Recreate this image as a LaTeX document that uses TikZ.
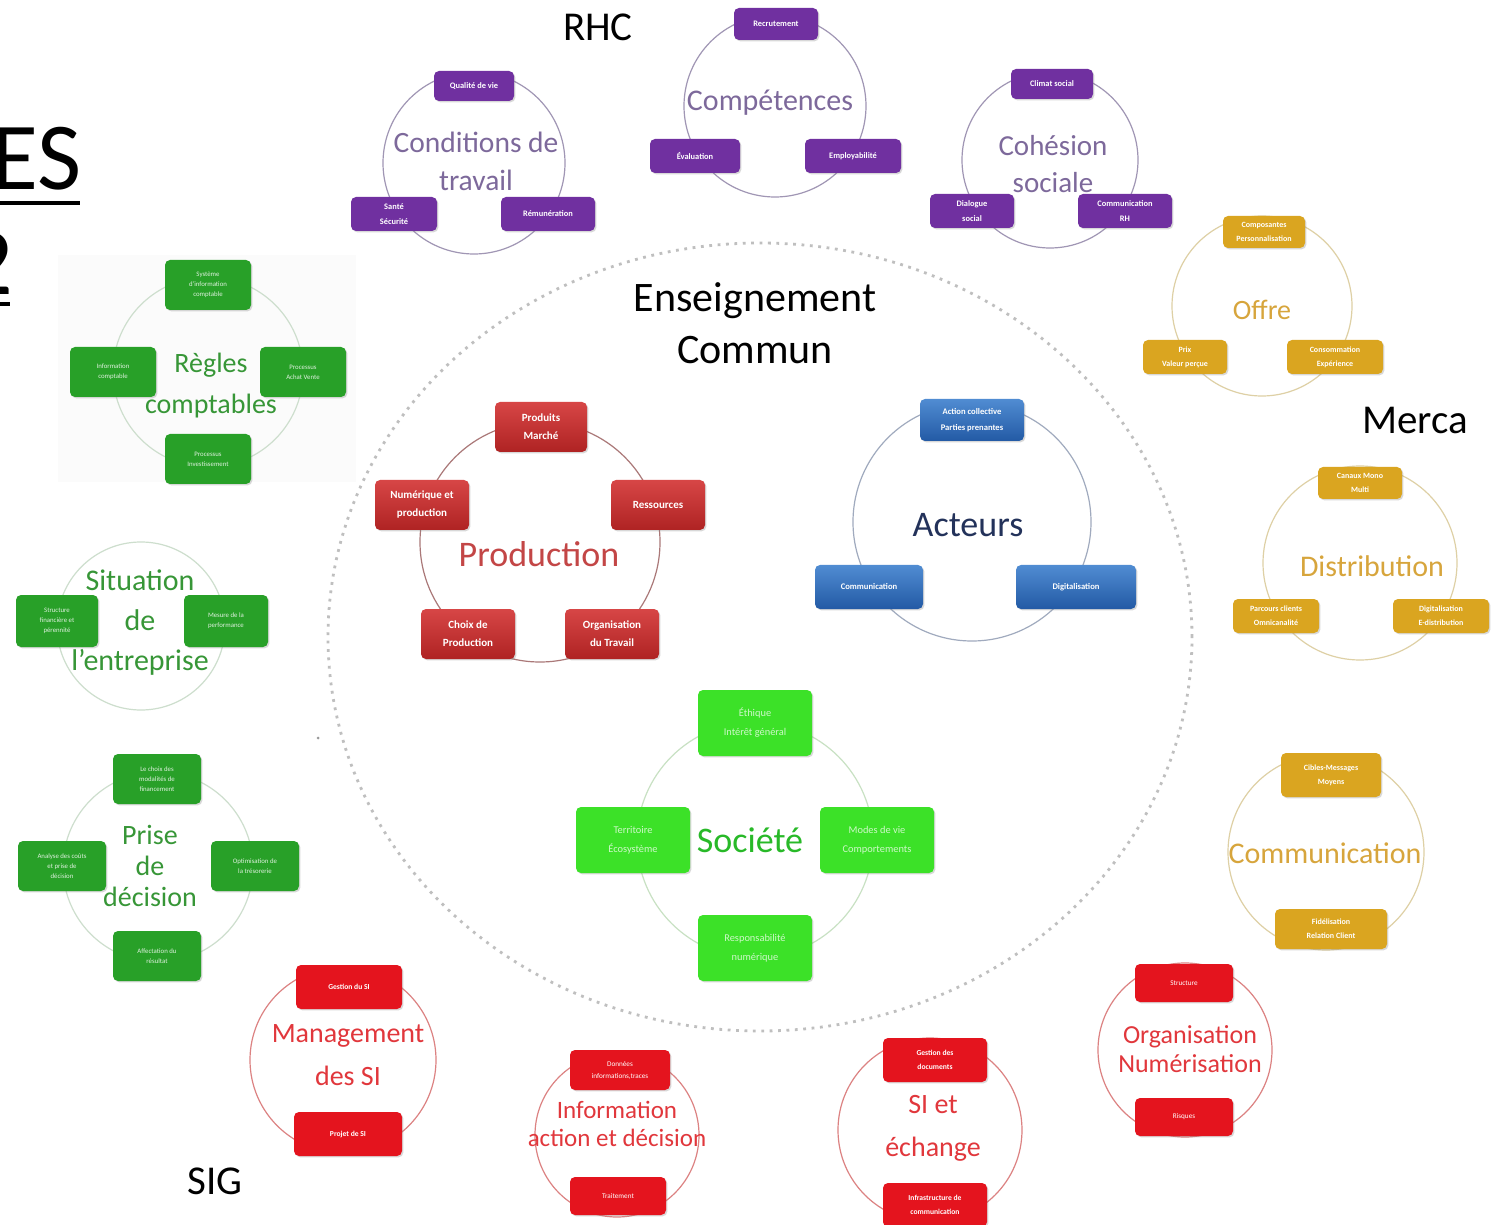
\documentclass[tikz,border=0pt]{standalone}
\usepackage{fontspec}
\setmainfont{Carlito}
\usetikzlibrary{shapes.geometric,shadows}
\definecolor{cPurple}{RGB}{112,48,160}
\definecolor{cPurpleT}{RGB}{125,105,155}
\definecolor{cPurpleR}{RGB}{160,150,180}
\definecolor{cGold}{RGB}{218,165,32}
\definecolor{cGoldT}{RGB}{215,165,60}
\definecolor{cGoldR}{RGB}{222,208,165}
\definecolor{cGreen}{RGB}{40,160,40}
\definecolor{cGreenT}{RGB}{55,150,55}
\definecolor{cGreenR}{RGB}{205,222,205}
\definecolor{cProdA}{RGB}{215,70,70}
\definecolor{cProdB}{RGB}{175,35,35}
\definecolor{cProdT}{RGB}{195,70,70}
\definecolor{cProdR}{RGB}{170,120,120}
\definecolor{cBlueA}{RGB}{80,140,210}
\definecolor{cBlueB}{RGB}{35,90,165}
\definecolor{cBlueT}{RGB}{35,50,90}
\definecolor{cBlueR}{RGB}{160,170,190}
\definecolor{cSoc}{RGB}{60,225,40}
\definecolor{cSocT}{RGB}{40,185,40}
\definecolor{cSocR}{RGB}{200,225,195}
\definecolor{cRed}{RGB}{228,20,30}
\definecolor{cRedT}{RGB}{225,55,60}
\definecolor{cRedR}{RGB}{220,130,130}
\definecolor{cPanel}{RGB}{251,251,251}
\newcommand{\fsz}[2]{\fontsize{#1}{#2}\selectfont}
\tikzset{
  ring/.style 2 args={circle, draw=#2, line width=0.6pt, inner sep=0pt, minimum size=#1*1pt},
  sz/.style 2 args={minimum width=#1*0.5pt, minimum height=#2*0.5pt},
  box/.style={rounded corners=2.5pt, align=center, inner sep=0pt, text=white,
    drop shadow={shadow xshift=0.7pt, shadow yshift=-0.7pt, opacity=0.3}},
  purp/.style={box, fill=cPurple, font=\bfseries\fsz{4.2}{7.5}},
  gold/.style={box, fill=cGold, font=\bfseries\fsz{4}{7}},
  grn/.style={box, fill=cGreen, text=white!85!cGreen, font=\fsz{3.4}{5}},
  prod/.style={box, top color=cProdA, bottom color=cProdB, font=\bfseries\fsz{5.5}{9}},
  blu/.style={box, top color=cBlueA, bottom color=cBlueB, font=\bfseries\fsz{4.3}{8}},
  soc/.style={box, fill=cSoc, text=white!75!cSoc, font=\fsz{5.2}{9.5}},
  rbox/.style={box, fill=cRed, font=\bfseries\fsz{3.8}{7}},
  ttl/.style={align=center, inner sep=0pt},
  lbl/.style={inner sep=0pt, font=\fsz{20.5}{24}}
}
\begin{document}
\begin{tikzpicture}[x=0.5pt, y=-0.5pt]
\useasboundingbox[fill=white] (0,0) rectangle (1512,1225);

% faint panel behind the accounting cluster
\fill[cPanel] (58,255) rectangle (356,482);

% big dotted ellipse
\node[ellipse, draw=black!25, line width=1.4pt, dash pattern=on 1.4pt off 2.8pt,
  minimum width=432pt, minimum height=394pt, inner sep=0pt] (ens) at (760,637) {};
\fill[black!40] (318,738) circle [radius=1.5];

% ---------- title fragment ----------
\node[anchor=base east, inner sep=0pt, font=\fsz{48}{48}] (tes) at (82,190) {ES};
\node[anchor=base east, inner sep=0pt, font=\fsz{48}{48}] (tdeux) at (14,295) {2};
\draw[line width=2pt] (-10,203) -- (80,203);
\draw[line width=2pt] (-10,304) -- (10,304);

% ---------- labels ----------
\node[lbl] (rhc) at (598,27) {RHC};
\node[lbl] (merca) at (1415,420) {Merca};
\node[lbl] (sig) at (215,1181) {SIG};
\node[ttl, font=\fsz{21}{26}] (enscom) at (755,323) {Enseignement\\Commun};

% ---------- RHC : Conditions de travail ----------
\node[ring={91}{cPurpleR}] (rcond) at (474,163) {};
\node[purp, sz={80}{30}] (qual) at (474,86) {Qualité de vie};
\node[purp, sz={86}{34}] (sante) at (394,214) {Santé\\Sécurité};
\node[purp, sz={94}{34}] (remu) at (548,214) {Rémunération};
\node[ttl, text=cPurpleT, font=\fsz{14.75}{19}] (tcond) at (476,161) {Conditions de\\travail};

% ---------- Compétences ----------
\node[ring={91}{cPurpleR}] (rcomp) at (775,106) {};
\node[purp, sz={84}{32}] (recr) at (776,24) {Recrutement};
\node[purp, sz={90}{34}] (eval) at (695,156) {Évaluation};
\node[purp, sz={96}{34}] (empl) at (853,156) {Employabilité};
\node[ttl, text=cPurpleT, font=\fsz{15}{18}] (tcomp) at (770,103) {Compétences};

% ---------- Cohésion sociale ----------
\node[ring={88}{cPurpleR}] (rcoh) at (1050,160) {};
\node[purp, sz={82}{30}] (climat) at (1052,84) {Climat social};
\node[purp, sz={84}{34}] (dial) at (972,211) {Dialogue\\social};
\node[purp, sz={94}{34}] (comrh) at (1125,211) {Communication\\RH};
\node[ttl, text=cPurpleT, font=\fsz{14.5}{18.5}] (tcoh) at (1053,164) {Cohésion\\sociale};

% ---------- Merca : Offre ----------
\node[ring={90}{cGoldR}] (roffre) at (1262,306) {};
\node[gold, sz={82}{32}] (compo) at (1264,232) {Composantes\\Personnalisation};
\node[gold, sz={84}{34}] (prix) at (1185,357) {Prix\\Valeur perçue};
\node[gold, sz={96}{34}] (conso) at (1335,357) {Consommation\\Expérience};
\node[ttl, text=cGoldT, font=\fsz{14}{17}] (toffre) at (1262,310) {Offre};

% ---------- Distribution ----------
\node[ring={97}{cGoldR}] (rdist) at (1360,563) {};
\node[gold, sz={84}{32}] (canaux) at (1360,483) {Canaux Mono\\Multi};
\node[gold, sz={86}{34}] (parc) at (1276,616) {Parcours clients\\Omnicanalité};
\node[gold, sz={96}{34}] (digd) at (1441,616) {Digitalisation\\E-distribution};
\node[ttl, text=cGoldT, font=\fsz{15}{18}] (tdist) at (1372,566) {Distribution};

% ---------- Communication ----------
\node[ring={98}{cGoldR}] (rcomm) at (1326,852) {};
\node[gold, sz={100}{44}] (cibles) at (1331,775) {Cibles-Messages\\Moyens};
\node[gold, sz={112}{40}] (fidel) at (1331,929) {Fidélisation\\Relation Client};
\node[ttl, text=cGoldT, font=\fsz{15}{18}] (tcomm) at (1325,853) {Communication};

% ---------- SIG : Règles comptables ----------
\node[ring={95}{cGreenR}] (rregl) at (208,372) {};
\node[grn, sz={86}{50}] (sic) at (208,285) {Système\\d’information\\comptable};
\node[grn, sz={86}{50}] (infoc) at (113,372) {Information\\comptable};
\node[grn, sz={86}{50}] (pav) at (303,372) {Processus\\Achat Vente};
\node[grn, sz={86}{50}] (pinv) at (208,459) {Processus\\Investissement};
\node[ttl, text=cGreenT, font=\fsz{14}{20.5}] (tregl) at (211,386) {Règles\\comptables};

% ---------- Situation de l'entreprise ----------
\node[ring={84}{cGreenR}] (rsit) at (141,626) {};
\node[grn, sz={82}{52}] (struct) at (57,621) {Structure\\financière et\\pérennité};
\node[grn, sz={84}{52}] (mesure) at (226,621) {Mesure de la\\performance};
\node[ttl, text=cGreenT, font=\fsz{15}{20}] (tsit) at (140,623) {Situation\\de\\l’entreprise};

% ---------- Prise de décision ----------
\node[ring={95}{cGreenR}] (rprise) at (158,867) {};
\node[grn, sz={88}{50}] (choixf) at (157,779) {Le choix des\\modalités de\\financement};
\node[grn, sz={88}{50}] (analyse) at (62,866) {Analyse des coûts\\et prise de\\décision};
\node[grn, sz={88}{50}] (optim) at (255,866) {Optimisation de\\la trésorerie};
\node[grn, sz={88}{50}] (affect) at (157,956) {Affectation du\\résultat};
\node[ttl, text=cGreenT, font=\fsz{14}{15.5}] (tprise) at (150,866) {Prise\\de\\décision};

% ---------- Production ----------
\node[ring={120}{cProdR}] (rprod) at (540,542) {};
\node[prod, sz={92}{50}] (prodm) at (541,427) {Produits\\Marché};
\node[prod, sz={94}{50}] (ress) at (658,505) {Ressources};
\node[prod, sz={94}{50}] (orga) at (612,634) {Organisation\\du Travail};
\node[prod, sz={94}{50}] (choixp) at (468,634) {Choix de\\Production};
\node[prod, sz={94}{50}] (numprod) at (422,505) {Numérique et\\production};
\node[ttl, text=cProdT, font=\fsz{18}{21}] (tprod) at (539,554) {Production};

% ---------- Acteurs ----------
\node[ring={119}{cBlueR}] (ract) at (972,522) {};
\node[blu, sz={104}{42}] (actcol) at (972,420) {Action collective\\Parties prenantes};
\node[blu, sz={108}{44}] (commb) at (869,587) {Communication};
\node[blu, sz={120}{44}] (digib) at (1076,587) {Digitalisation};
\node[ttl, text=cBlueT, font=\fsz{18}{21}] (tact) at (968,525) {Acteurs};

% ---------- Société ----------
\node[ring={118}{cSocR}] (rsoc) at (755,840) {};
\node[soc, sz={114}{66}] (eth) at (755,723) {Éthique\\Intérêt général};
\node[soc, sz={114}{66}] (terr) at (633,840) {Territoire\\Écosystème};
\node[soc, sz={114}{66}] (modes) at (877,840) {Modes de vie\\Comportements};
\node[soc, sz={114}{66}] (respn) at (755,948) {Responsabilité\\numérique};
\node[ttl, text=cSocT, font=\fsz{18}{21}] (tsoc) at (750,840) {Société};

% ---------- Management des SI ----------
\node[ring={93}{cRedR}] (rmgt) at (343,1060) {};
\node[rbox, sz={106}{44}] (gsi) at (349,987) {Gestion du SI};
\node[rbox, sz={108}{44}] (psi) at (348,1134) {Projet de SI};
\node[ttl, text=cRedT, font=\fsz{14}{21.5}] (tmgt) at (348,1055) {Management\\des SI};

% ---------- Information action et décision ----------
\node[ring={82}{cRedR}] (rinfo) at (617,1135) {};
\node[rbox, sz={100}{40}, font=\fsz{3.6}{6}] (donn) at (620,1070) {Données\\informations,traces};
\node[rbox, sz={96}{38}, font=\fsz{3.6}{6}] (trait) at (618,1196) {Traitement};
\node[ttl, text=cRedT, font=\fsz{12.5}{14}] (tinfo) at (617,1124) {Information\\action et décision};

% ---------- SI et échange ----------
\node[ring={92}{cRedR}] (rsie) at (930,1130) {};
\node[rbox, sz={104}{44}] (gdoc) at (935,1060) {Gestion des\\documents};
\node[rbox, sz={104}{44}] (infra) at (935,1205) {Infrastructure de\\communication};
\node[ttl, text=cRedT, font=\fsz{14}{21.5}] (tsie) at (933,1128) {SI et\\échange};

% ---------- Organisation Numérisation ----------
\node[ring={87}{cRedR}] (rorg) at (1185,1050) {};
\node[rbox, sz={98}{38}, font=\fsz{3.6}{6}] (struc) at (1184,983) {Structure};
\node[rbox, sz={98}{38}, font=\fsz{3.6}{6}] (risq) at (1184,1117) {Risques};
\node[ttl, text=cRedT, font=\fsz{13}{14.5}] (torg) at (1190,1049) {Organisation\\Numérisation};
\end{tikzpicture}
\end{document}
